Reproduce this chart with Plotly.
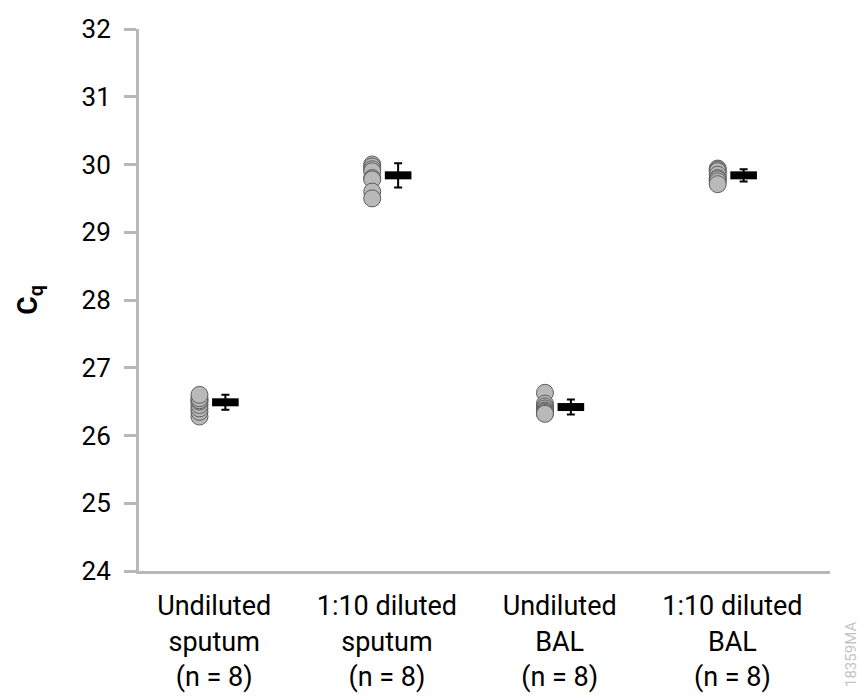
import plotly.graph_objects as go

categories = ["Undiluted<br>sputum<br>(n = 8)", "1:10 diluted<br>sputum<br>(n = 8)",
              "Undiluted<br>BAL<br>(n = 8)", "1:10 diluted<br>BAL<br>(n = 8)"]

undiluted_sputum = [26.28, 26.35, 26.40, 26.45, 26.50, 26.52, 26.55, 26.60]
diluted_sputum = [30.00, 29.97, 29.93, 29.90, 29.80, 29.78, 29.60, 29.50]
undiluted_bal = [26.63, 26.47, 26.43, 26.40, 26.37, 26.35, 26.33, 26.32]
diluted_bal = [29.94, 29.92, 29.90, 29.85, 29.80, 29.78, 29.75, 29.71]
groups = [undiluted_sputum, diluted_sputum, undiluted_bal, diluted_bal]

means = [26.49, 29.84, 26.42, 29.84]
sds = [0.11, 0.18, 0.11, 0.09]

y_ticks = [24, 25, 26, 27, 28, 29, 30, 31, 32]

point_offset = -0.15
label_offset = -0.065

fig = go.Figure()
for i, vals in enumerate(groups):
    fig.add_trace(go.Scatter(
        x=[i + 0.5 + point_offset] * len(vals), y=vals, mode="markers",
        marker=dict(size=17, color="#b9b9b9", line=dict(color="#5c5c5c", width=1)),
        showlegend=False, hoverinfo="y"))

fig.add_trace(go.Scatter(
    x=[i + 0.5 for i in range(len(means))], y=means, mode="markers",
    marker=dict(symbol="line-ew", size=19, color="black", line=dict(color="black", width=8)),
    error_y=dict(type="data", array=sds, visible=True, color="black", thickness=2, width=4),
    showlegend=False))

fig.add_annotation(text="18359MA", xref="paper", yref="paper", x=1, y=0,
                   xanchor="center", yanchor="middle", xshift=21, yshift=-84,
                   textangle=-90, showarrow=False,
                   font=dict(family="Roboto", size=15, color="#c4c4c4"))

axis_color = "#b8b8b8"
fig.update_layout(
    width=862, height=696,
    margin=dict(l=139, r=32, t=29, b=125),
    plot_bgcolor="white", paper_bgcolor="white",
    font=dict(family="Roboto", color="black"),
    xaxis=dict(range=[0, 4], showgrid=False, zeroline=False, showline=True,
               linecolor=axis_color, linewidth=3, ticks="", automargin=False,
               tickvals=[i + 0.5 + label_offset for i in range(4)], ticktext=categories,
               tickfont=dict(size=27), ticklabelstandoff=9),
    yaxis=dict(range=[24, 32], showgrid=False, zeroline=False, showline=True,
               linecolor=axis_color, linewidth=3, ticks="outside", ticklen=12,
               tickwidth=3, tickcolor=axis_color, tickvals=y_ticks, automargin=False,
               tickfont=dict(size=26), ticklabelstandoff=8,
               title=dict(text="C<sub>q</sub>", font=dict(size=28, weight="bold"), standoff=36)),
)

fig.write_html("out.html")
